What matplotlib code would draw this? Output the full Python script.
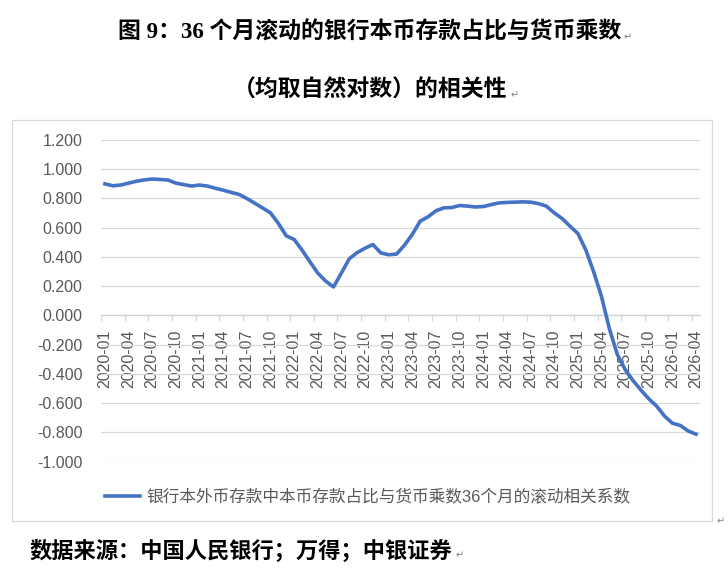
import numpy as np
import pandas as pd
import matplotlib
matplotlib.use('Agg')
import matplotlib.pyplot as plt
from matplotlib.patches import Rectangle
from matplotlib.lines import Line2D

plt.rcParams['font.family'] = ['Liberation Sans', 'Noto Sans CJK SC', 'DejaVu Sans']

# --- data ---
months = pd.period_range('2020-01', '2026-04', freq='M').strftime('%Y-%m').tolist()

rolling_corr = [
    0.900, 0.887, 0.892, 0.905, 0.918, 0.927, 0.933, 0.930, 0.926, 0.905, 0.895, 0.885,  # 2020
    0.892, 0.885, 0.870, 0.857, 0.842, 0.828, 0.800, 0.768, 0.735, 0.702, 0.630, 0.545,  # 2021
    0.520, 0.448, 0.368, 0.290, 0.235, 0.195, 0.290, 0.388, 0.430, 0.460, 0.485, 0.428,  # 2022
    0.415, 0.420, 0.480, 0.555, 0.645, 0.675, 0.716, 0.736, 0.738, 0.752, 0.748, 0.742,  # 2023
    0.745, 0.758, 0.770, 0.773, 0.775, 0.777, 0.775, 0.765, 0.748, 0.702, 0.663, 0.611,  # 2024
    0.561, 0.450, 0.300, 0.130, -0.090, -0.265, -0.370, -0.445, -0.510, -0.570, -0.620, -0.688,  # 2025
    -0.737, -0.752, -0.790, -0.812,  # 2026
]

y_ticks = [k / 5 for k in range(-5, 7)]

series_label = '银行本外币存款中本币存款占比与货币乘数36个月的滚动相关系数'
title_1 = '图 9：36 个月滚动的银行本币存款占比与货币乘数'
title_2 = '（均取自然对数）的相关性'
source = '数据来源：中国人民银行；万得；中银证券'

# --- figure ---
W, H = 728, 574
fig = plt.figure(figsize=(W / 100, H / 100), dpi=100)

grid_col = '#D9D9D9'
text_col = '#595959'
line_col = '#4472C4'

# chart area border
fig.patches.append(Rectangle((12 / W, 1 - 521 / H), 700 / W, 401 / H,
                             transform=fig.transFigure, fill=False,
                             ec=grid_col, lw=0.9))

ax = fig.add_axes([101 / W, 1 - 461.7 / H, 599 / W, (461.7 - 140) / H])
x = np.arange(len(months))
ax.plot(x, rolling_corr, color=line_col, lw=2.6, solid_joinstyle='round', zorder=3)

ax.set_xlim(-0.5, len(months) - 0.5)
ax.set_ylim(-1.0, 1.2)
ax.set_yticks(y_ticks)
ax.set_yticklabels([f'{v:.3f}' for v in y_ticks])
ax.tick_params(axis='y', length=0, pad=13.5, labelsize=11.5, labelcolor=text_col)

# category axis sits on zero, labels every quarter
ax.set_xticks(x[::3])
ax.set_xticklabels(months[::3])
ax.set_xticks(np.arange(-0.5, len(months), 3), minor=True)
ax.tick_params(axis='x', which='major', length=0, pad=10, labelsize=11.5,
               labelcolor=text_col, labelrotation=90)
ax.tick_params(axis='x', which='minor', length=4, width=0.9, color=grid_col, direction='out')

ax.grid(axis='y', color=grid_col, lw=0.9)
ax.set_axisbelow(True)
for side in ('left', 'right', 'top'):
    ax.spines[side].set_visible(False)
ax.spines['bottom'].set_position(('data', 0))
ax.spines['bottom'].set_color('#D0D0D0')
ax.spines['bottom'].set_linewidth(0.9)

# legend
handle = Line2D([], [], color=line_col, lw=2.6)
fig.legend([handle], [series_label], loc='center', bbox_to_anchor=(0.505, 1 - 497 / H),
           frameon=False, handlelength=2.1, handletextpad=0.4,
           prop={'family': ['Liberation Sans', 'Noto Sans CJK SC'], 'size': 12},
           labelcolor=text_col)

# titles and source
title_font = ['Liberation Serif', 'Noto Sans CJK SC']
fig.text(0.508, 1 - 33 / H, title_1, ha='center', va='center', fontsize=16.5,
         fontweight='bold', family=title_font)
fig.text(0.508, 1 - 91 / H, title_2, ha='center', va='center', fontsize=16.5,
         fontweight='bold', family=title_font)
fig.text(30 / W, 1 - 551 / H, source, ha='left', va='center', fontsize=16,
         fontweight='bold', family=title_font)

# word paragraph marks
for px, py in [(628, 37), (515, 95), (460, 555), (721, 521)]:
    fig.text(px / W, 1 - py / H, '↵', ha='center', va='center', fontsize=7,
             color='#808080', family=['DejaVu Sans'])

fig.savefig('out.png', dpi=100)
